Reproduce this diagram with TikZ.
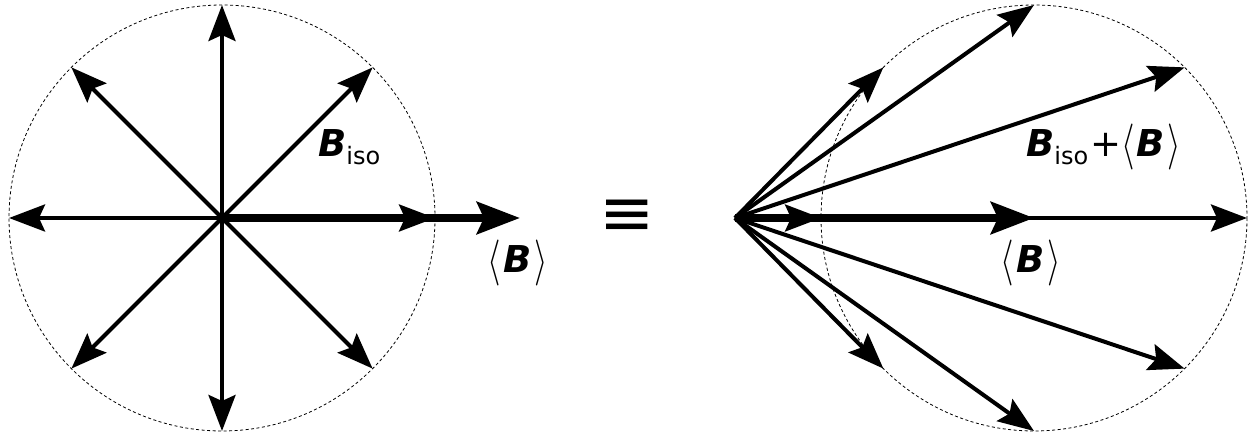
\RequirePackage{fix-cm}
\documentclass[tikz,border=0pt]{standalone}
\usepackage{graphicx}
\usepackage{fontspec}
\setmainfont{DejaVu Sans}
\usetikzlibrary{arrows.meta,calc}
\newcommand\myB{{\bfseries\itshape B}}
\newcommand\myiso{\raisebox{-8pt}{\fontsize{24}{24}\selectfont iso}}
\newcommand\myla{\raisebox{-2pt}{\fontsize{46}{46}\selectfont\scalebox{0.75}[1]{$\langle$}}\kern2pt}
\newcommand\myra{\kern3pt\raisebox{-2pt}{\fontsize{46}{46}\selectfont\scalebox{0.75}[1]{$\rangle$}}}
\begin{document}
\begin{tikzpicture}[x=1pt,y=-1pt,
  vec/.style={line width=4pt,-{Stealth[length=36pt,width=27pt,inset=6pt]}},
  bigvec/.style={line width=8pt,-{Stealth[length=43pt,width=32pt,inset=7pt]}},
  ring/.style={line width=0.8pt,dash pattern=on 3pt off 2.5pt},
  lbl/.style={inner sep=0pt,font=\fontsize{37}{44}\selectfont}]
\useasboundingbox (0,0) rectangle (1250,435);
% left: isotropic field
\coordinate (L) at (222,218);
\coordinate (Lmean) at (520,218);
\draw[ring] (L) circle [radius=213];
\foreach \a in {0,45,...,315}{\coordinate (L\a) at ($(L)+(\a:213)$);}
\foreach \a in {0,45,...,315}{\draw[vec] (L) -- (L\a);}
\draw[bigvec] (L) -- (Lmean);
\node[lbl,anchor=base west] (biso) at (318,157) {\myB\myiso};
\node[lbl,anchor=base] (bmeanL) at (518,273) {\myla\myB\myra};
% equivalence
\node[inner sep=0pt,font=\fontsize{66}{66}\selectfont] (eq) at (627,218) {≡};
% right: shifted field
\coordinate (O) at (735,218);
\coordinate (R) at (1034,218);
\draw[ring] (R) circle [radius=213];
\foreach \a in {0,45,...,315}{\coordinate (R\a) at ($(R)+(\a:213)$);}
\foreach \a in {0,45,...,315}{\draw[vec] (O) -- (R\a);}
\draw[bigvec] (O) -- (R);
\node[lbl,anchor=base west] (bsum) at (1026,157) {\myB\myiso\kern2pt+\myla\myB\myra};
\node[lbl,anchor=base] (bmeanR) at (1031,273) {\myla\myB\myra};
\end{tikzpicture}
\end{document}
